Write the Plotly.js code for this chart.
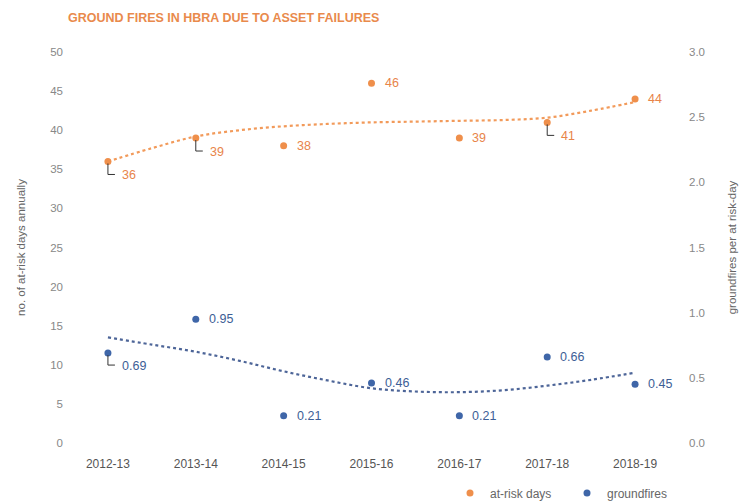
<!DOCTYPE html>
<html>
<head>
<meta charset="utf-8">
<script src="https://cdn.plot.ly/plotly-3.0.1.min.js"></script>
<style>html,body{margin:0;padding:0;background:#fff;}#chart{width:747px;height:504px;}</style>
</head>
<body>
<div id="chart"></div>
<script>
// ---- data ----
const categories = ['2012-13','2013-14','2014-15','2015-16','2016-17','2017-18','2018-19'];
const atRiskDays = [36, 39, 38, 46, 39, 41, 44];
const groundfires = [0.69, 0.95, 0.21, 0.46, 0.21, 0.66, 0.45];
// trend lines (half-category steps)
const trendX = [0, 0.5, 1, 1.5, 2, 2.5, 3, 3.5, 4, 4.5, 5, 5.5, 6];
const atRiskTrend = [36.0, 37.7, 39.2, 40.0, 40.5, 40.8, 41.0, 41.1, 41.2, 41.3, 41.6, 42.5, 43.6];
const fireTrend = [0.81, 0.755, 0.70, 0.63, 0.55, 0.48, 0.42, 0.395, 0.39, 0.405, 0.44, 0.485, 0.54];
// labels with leader lines
const orangeLeader = [0, 1, 5];
const blueLeader = [0];

const ORANGE = '#EF8F4B', ORANGE_TXT = '#E8844A', BLUE = '#3F66A8', BLUE_TXT = '#3D5E96';
const FONT = 'Liberation Sans, Arial, Helvetica, sans-serif';
const idx = categories.map((c, i) => i);

const traces = [
  {x: trendX, y: atRiskTrend, yaxis: 'y', mode: 'lines', line: {color: '#F29A5A', width: 2.2, dash: 'dot', shape: 'spline'}, showlegend: false, hoverinfo: 'skip'},
  {x: trendX, y: fireTrend, yaxis: 'y2', mode: 'lines', line: {color: '#4D6598', width: 2.2, dash: 'dot', shape: 'spline'}, showlegend: false, hoverinfo: 'skip'},
  {x: idx, y: atRiskDays, yaxis: 'y', mode: 'markers', name: 'at-risk days', marker: {color: ORANGE, size: 7}},
  {x: idx, y: groundfires, yaxis: 'y2', mode: 'markers', name: 'groundfires', marker: {color: BLUE, size: 7}}
];

const annotations = [], shapes = [];
atRiskDays.forEach((v, i) => {
  const lead = orangeLeader.includes(i);
  annotations.push({x: i, y: v, xref: 'x', yref: 'y', text: String(v), showarrow: false, xanchor: 'left', yanchor: 'middle',
    xshift: lead ? 12 : 11, yshift: lead ? -14 : 0, font: {family: FONT, size: 12.5, color: ORANGE_TXT}});
  if (lead) shapes.push({type: 'path', xref: 'x', yref: 'y', xsizemode: 'pixel', ysizemode: 'pixel', xanchor: i, yanchor: v,
    path: 'M0,-2 L0,-13 L7,-13', line: {color: '#333', width: 1}});
});
groundfires.forEach((v, i) => {
  const lead = blueLeader.includes(i);
  annotations.push({x: i, y: v, xref: 'x', yref: 'y2', text: v.toFixed(2), showarrow: false, xanchor: 'left', yanchor: 'middle',
    xshift: lead ? 12 : 11, yshift: lead ? -13 : 0, font: {family: FONT, size: 12.5, color: BLUE_TXT}});
  if (lead) shapes.push({type: 'path', xref: 'x', yref: 'y2', xsizemode: 'pixel', ysizemode: 'pixel', xanchor: i, yanchor: v,
    path: 'M0,-2 L0,-12 L7,-12', line: {color: '#333', width: 1}});
});

const layout = {
  width: 747, height: 504,
  margin: {l: 64, r: 68, t: 52, b: 61},
  paper_bgcolor: '#ffffff', plot_bgcolor: '#ffffff',
  font: {family: FONT, color: '#777'},
  title: {text: '<b>GROUND FIRES IN HBRA DUE TO ASSET FAILURES</b>', x: 68/747, xanchor: 'left', xref: 'container',
    y: 1 - 18/504, yanchor: 'middle', yref: 'container', font: {family: FONT, size: 12.5, color: '#E98A4C'}},
  xaxis: {range: [-0.5, 6.5], tickvals: idx, ticktext: categories, showgrid: false, zeroline: false, showline: false,
    ticks: '', ticklabelstandoff: 12, tickfont: {family: FONT, size: 12, color: '#555'}, fixedrange: true},
  yaxis: {range: [0, 50], dtick: 5, showgrid: false, zeroline: false, showline: false, ticks: '',
    tickfont: {family: FONT, size: 11.5, color: '#888'},
    title: {text: 'no. of at-risk days annually', font: {family: FONT, size: 11.5, color: '#666'}, standoff: 22}},
  yaxis2: {range: [0, 3], dtick: 0.5, tickformat: '.1f', overlaying: 'y', side: 'right', showgrid: false, zeroline: false,
    showline: false, ticks: '', ticklabelstandoff: 9, tickfont: {family: FONT, size: 11.5, color: '#888'},
    title: {text: 'groundfires per at risk-day', font: {family: FONT, size: 11.5, color: '#666'}, standoff: 23}},
  legend: {orientation: 'h', xref: 'container', yref: 'container', x: 450/747, xanchor: 'left', y: 11/504, yanchor: 'middle',
    font: {family: FONT, size: 12, color: '#666'}, entrywidth: 72, entrywidthmode: 'pixels'},
  annotations: annotations,
  shapes: shapes
};

Plotly.newPlot('chart', traces, layout, {displayModeBar: false, staticPlot: true});
</script>
</body>
</html>
